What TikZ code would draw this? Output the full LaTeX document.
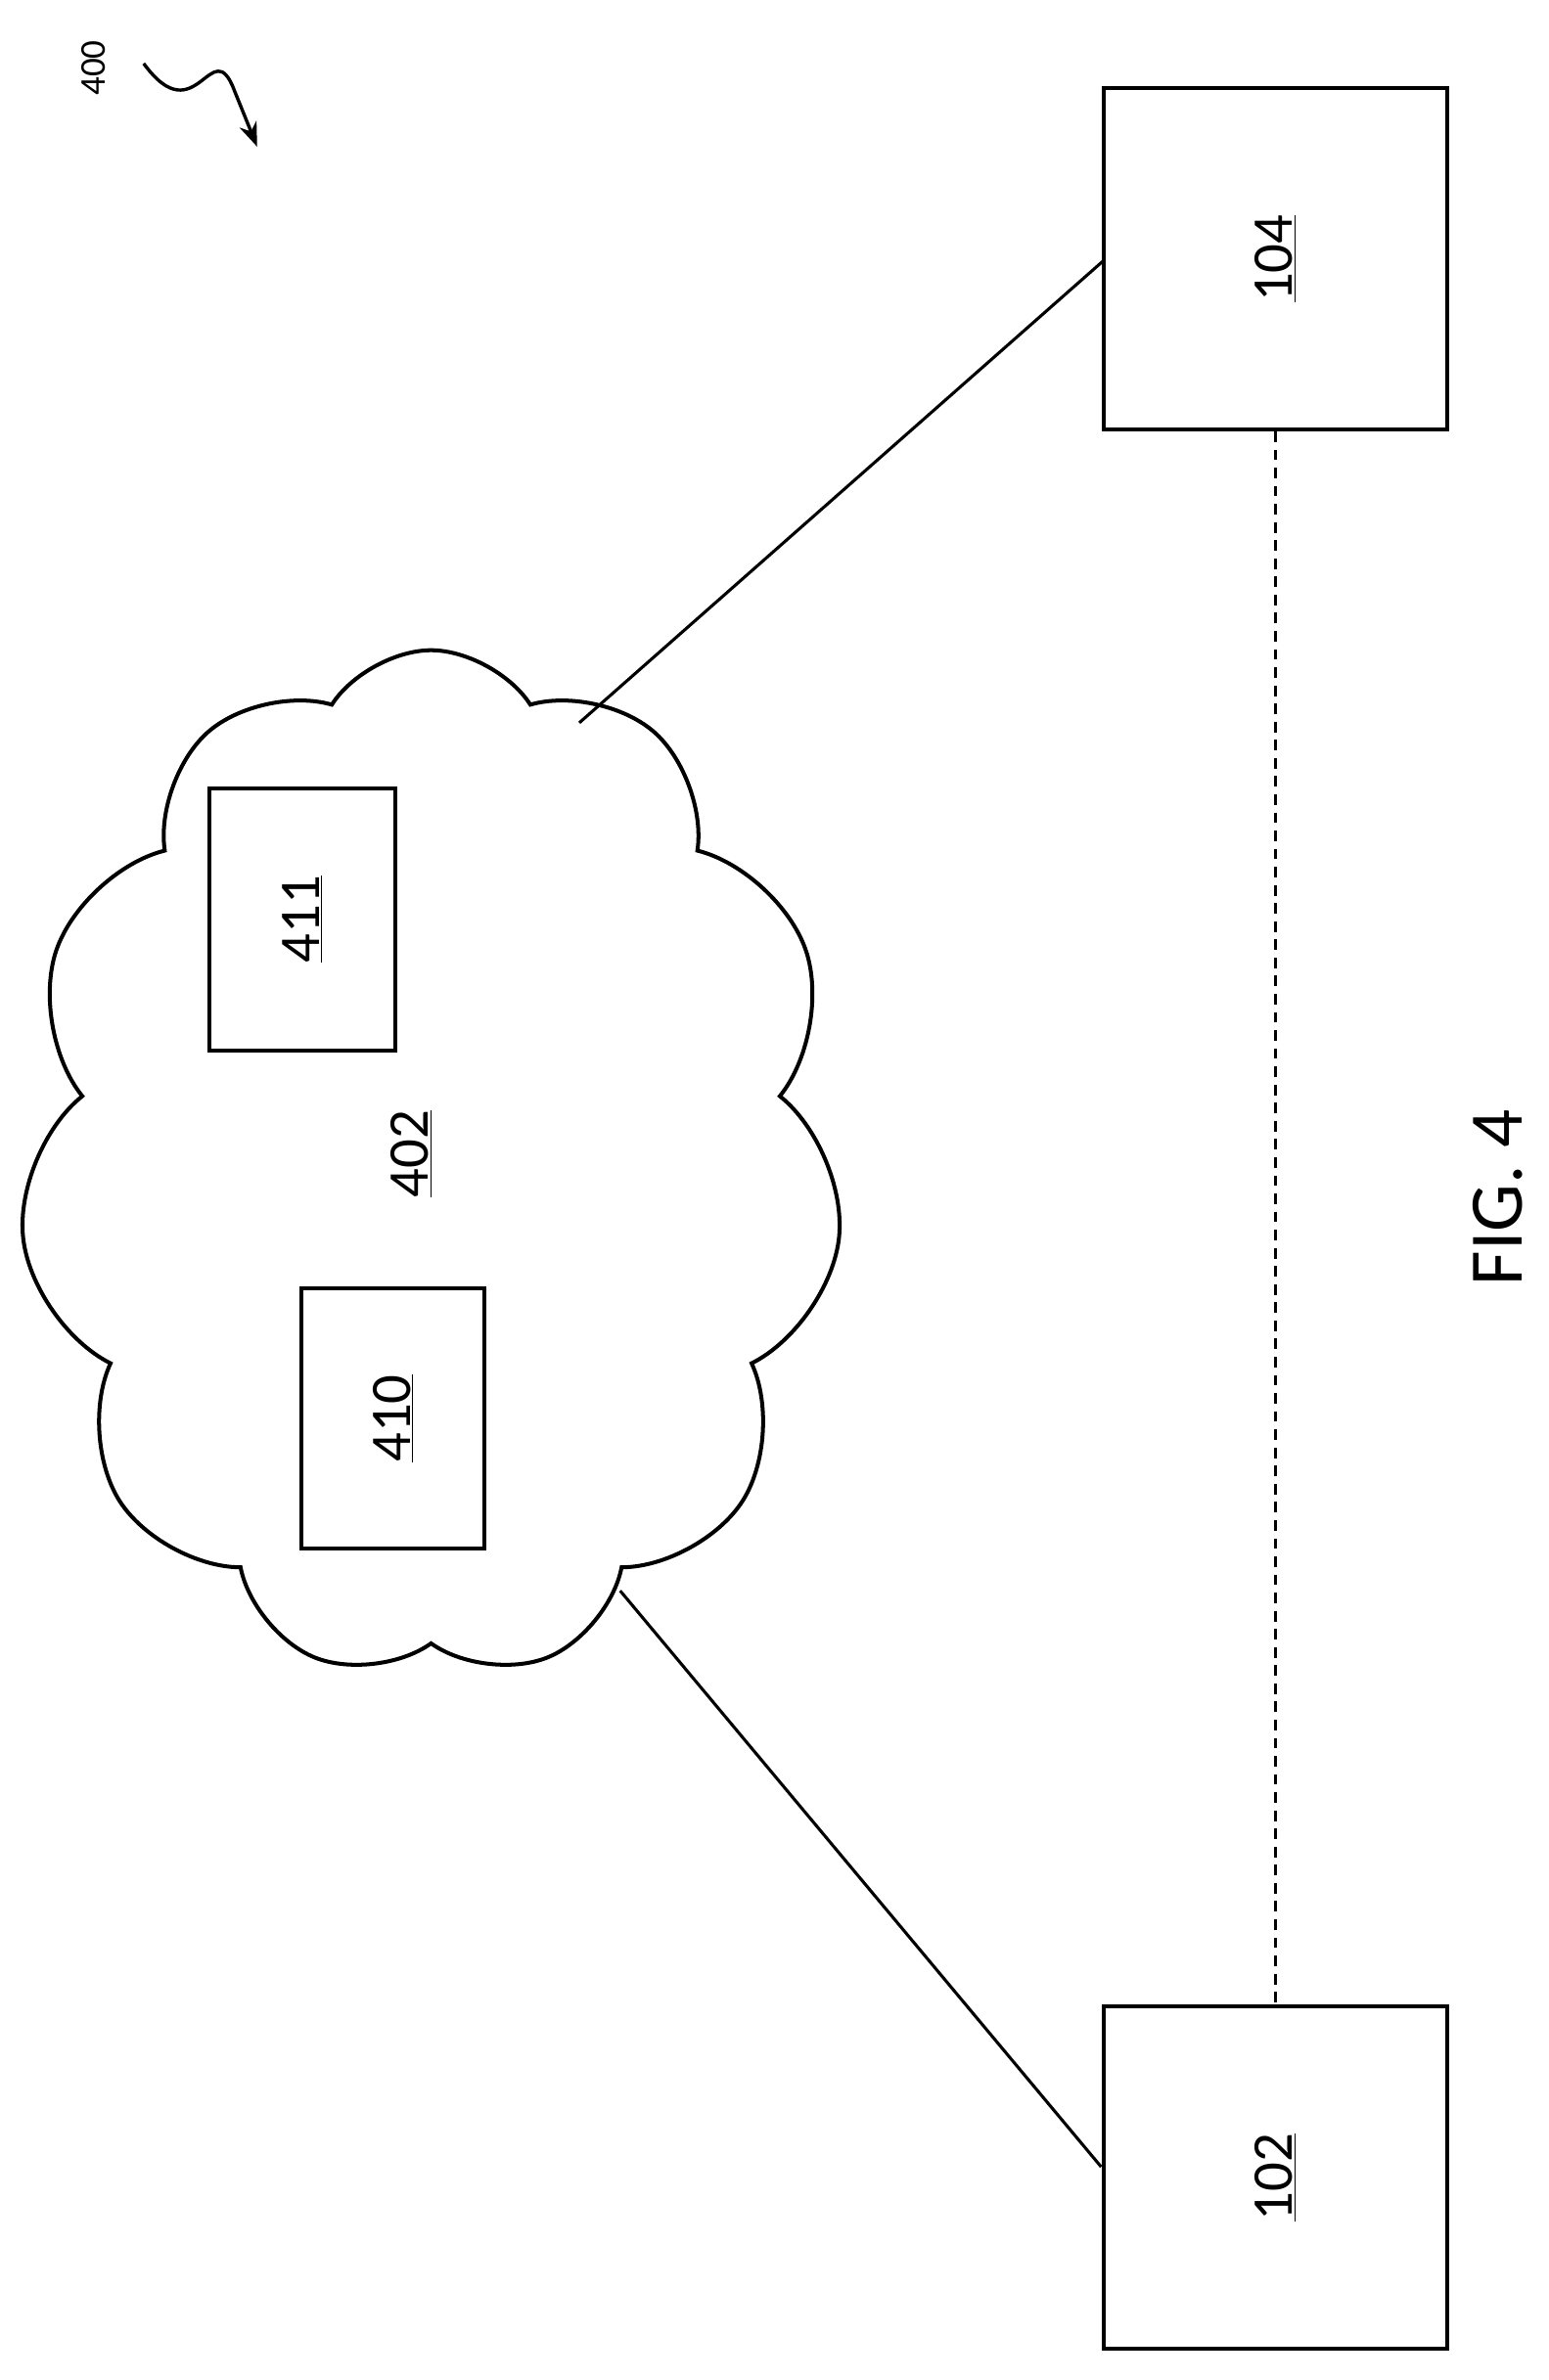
\documentclass[tikz,border=0pt]{standalone}
\usepackage{fontspec}
\setmainfont{Carlito}
\usetikzlibrary{shapes.symbols,decorations.pathmorphing,arrows.meta}
\begin{document}
\begin{tikzpicture}[x=1pt,y=-1pt,line width=2.6pt,
  box/.style={draw,line width=2.6pt},
  lab/.style={rotate=90,font=\fontsize{38}{44}\selectfont,inner sep=0},
  conn/.style={line width=2pt}]
\useasboundingbox (0,0) rectangle (1024,1574);
\node[draw,cloud,cloud puffs=11,cloud puff arc=115,minimum width=545pt,minimum height=680pt,line width=2.6pt] (cl) at (285,770) {};
\node[box,minimum width=227pt,minimum height=226pt] (b104) at (843,171) {};
\node[box,minimum width=227pt,minimum height=226pt] (b102) at (843,1440) {};
\node[box,minimum width=123pt,minimum height=173pt] (b411) at (200,608) {};
\node[box,minimum width=121pt,minimum height=172pt] (b410) at (260,938) {};
\node[lab] at (b104) {\underline{104}};
\node[lab] at (b102) {\underline{102}};
\node[lab] at (b411) {\underline{411}};
\node[lab] at (b410) {\underline{410}};
\node[lab] (l402) at (272,763) {\underline{402}};
\node[rotate=90,font=\fontsize{50}{54}\selectfont,inner sep=0] (fig) at (990,792) {FIG. 4};
\node[rotate=90,font=\fontsize{24}{28}\selectfont,inner sep=0] (n400) at (62,45) {400};
\coordinate (a1) at (730,172); \coordinate (c1) at (383,478);
\coordinate (a2) at (728,1433); \coordinate (c2) at (410,1052);
\draw[conn] (a1) -- (c1);
\draw[conn] (a2) -- (c2);
\draw[conn,dash pattern=on 7pt off 5pt] (b104.south) -- (b102.north);
\coordinate (s0) at (95,42); \coordinate (s1) at (170,97);
\draw[line width=2.2pt,-{Stealth[length=16pt,width=12pt]}] (s0) .. controls (130,90) and (140,20) .. (155,60) -- (s1);
\end{tikzpicture}
\end{document}
